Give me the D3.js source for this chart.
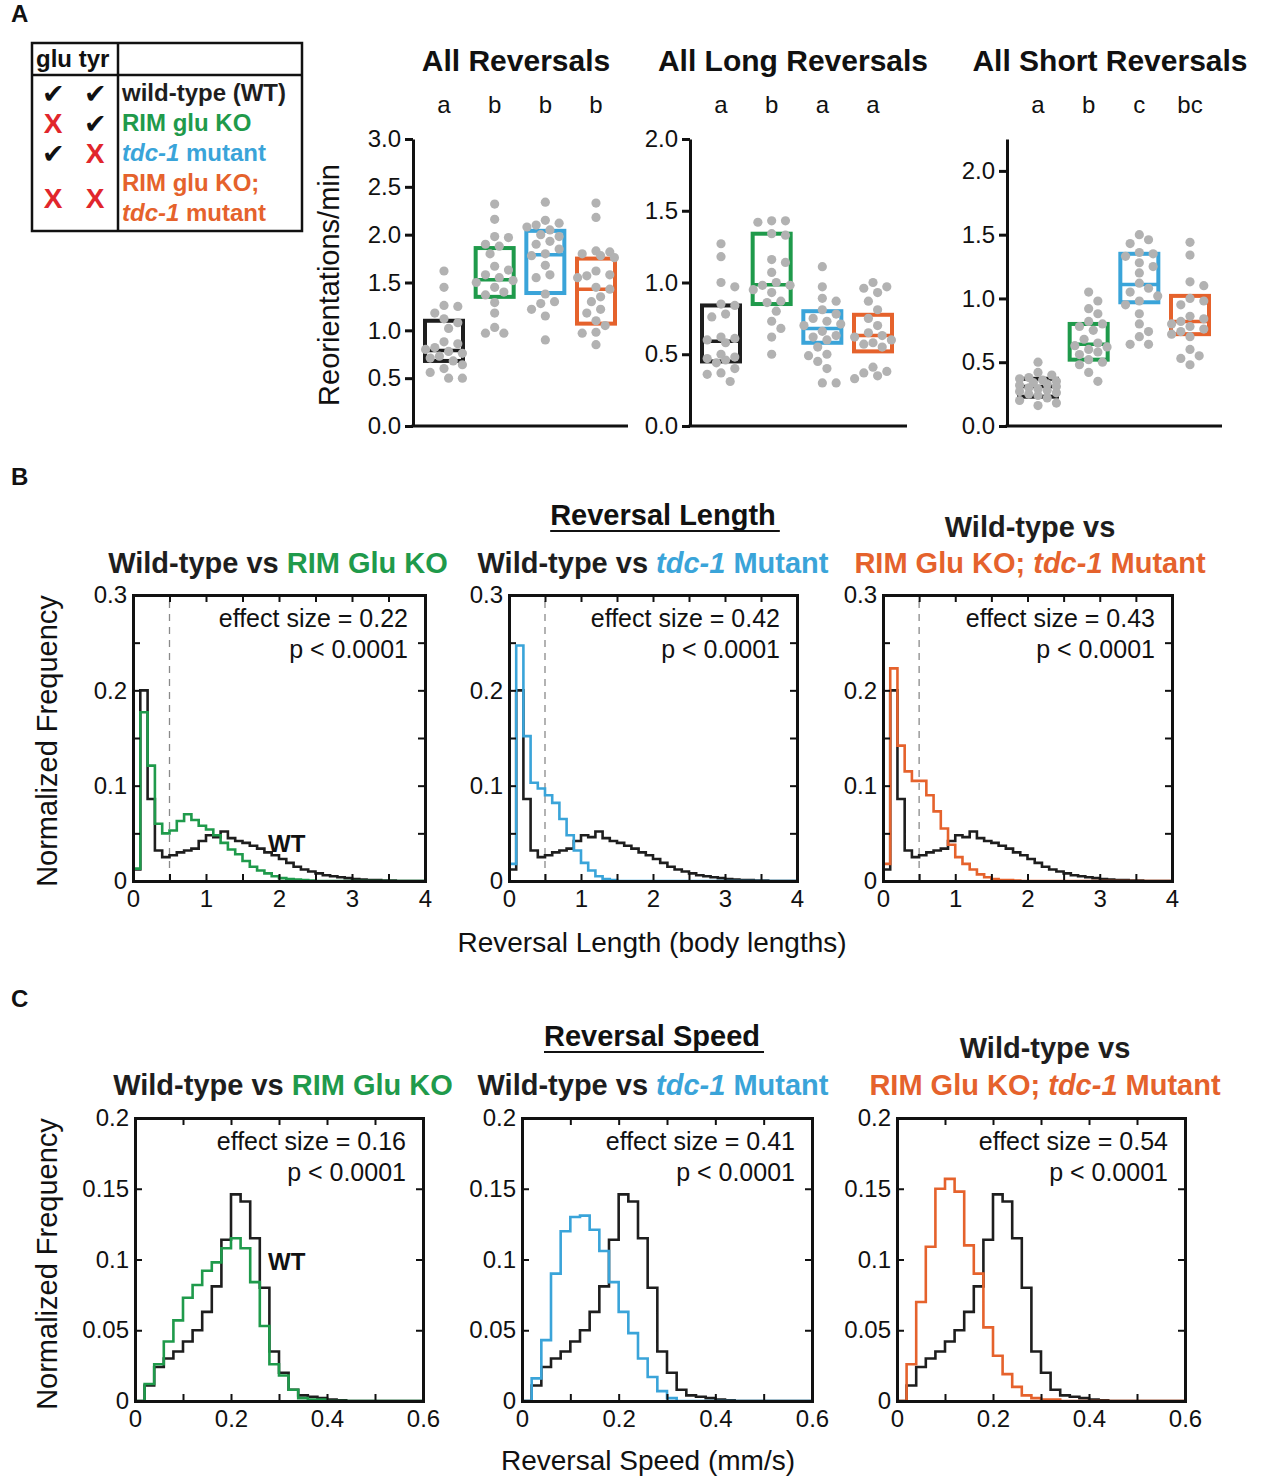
<!DOCTYPE html>
<html>
<head>
<meta charset="utf-8">
<script src="https://cdn.jsdelivr.net/npm/d3@7"></script>
<style>
  body { margin: 0; background: #fff; }
  text { font-family: "Liberation Sans", Arial, Helvetica, sans-serif; fill: #111; }
</style>
</head>
<body>
<script>
// ---- genotypes ----
var genotypes = ["WT", "RIM glu KO", "tdc-1", "RIM glu KO; tdc-1"];
var genoColors = ["#1e1e1e", "#1f9a4b", "#3aa4d9", "#e5622c"];

// ---- panel A: box plots (q1, median, q3) and individual animals ----
var boxTitles = ["All Reversals", "All Long Reversals", "All Short Reversals"];
var letterLabels = [["a", "b", "b", "b"], ["a", "b", "a", "a"], ["a", "b", "c", "bc"]];
var boxYMax = [3, 2, 2.25];
var boxTicks = [[0, 0.5, 1, 1.5, 2, 2.5, 3], [0, 0.5, 1, 1.5, 2], [0, 0.5, 1, 1.5, 2]];

var boxAll = [[0.68, 0.79, 1.10], [1.35, 1.53, 1.86], [1.39, 1.79, 2.04], [1.07, 1.43, 1.75]];
var boxLong = [[0.45, 0.59, 0.84], [0.85, 0.985, 1.34], [0.58, 0.68, 0.80], [0.52, 0.63, 0.775]];
var boxShort = [[0.23, 0.31, 0.37], [0.52, 0.64, 0.80], [0.97, 1.11, 1.35], [0.72, 0.82, 1.02]];

var dotsAll = [
  [1.62, 1.45, 1.26, 1.25, 1.18, 1.12, 1.08, 1.02, 0.88, 0.86, 0.82, 0.80, 0.78, 0.76, 0.73, 0.71, 0.68, 0.64, 0.60, 0.56, 0.50, 0.50],
  [2.32, 2.16, 1.98, 1.97, 1.90, 1.88, 1.80, 1.67, 1.63, 1.58, 1.55, 1.52, 1.50, 1.45, 1.40, 1.37, 1.29, 1.18, 1.03, 0.97, 0.97],
  [2.34, 2.15, 2.12, 2.10, 2.08, 2.05, 2.00, 1.98, 1.93, 1.90, 1.85, 1.80, 1.78, 1.68, 1.58, 1.55, 1.38, 1.30, 1.28, 1.22, 1.15, 0.90],
  [2.33, 2.18, 1.83, 1.82, 1.80, 1.78, 1.76, 1.62, 1.58, 1.57, 1.55, 1.45, 1.43, 1.35, 1.30, 1.22, 1.18, 1.10, 1.05, 0.98, 0.97, 0.85]
];
var dotsLong = [
  [1.27, 1.18, 1.00, 0.97, 0.85, 0.84, 0.78, 0.76, 0.62, 0.61, 0.60, 0.58, 0.50, 0.48, 0.47, 0.46, 0.44, 0.40, 0.37, 0.36, 0.31],
  [1.43, 1.43, 1.42, 1.34, 1.33, 1.16, 1.14, 1.07, 1.00, 0.98, 0.98, 0.95, 0.93, 0.87, 0.86, 0.80, 0.73, 0.68, 0.62, 0.50],
  [1.11, 0.97, 0.89, 0.87, 0.81, 0.78, 0.75, 0.73, 0.71, 0.70, 0.66, 0.63, 0.62, 0.60, 0.55, 0.50, 0.49, 0.45, 0.40, 0.30, 0.30],
  [1.00, 0.97, 0.96, 0.93, 0.87, 0.81, 0.75, 0.70, 0.65, 0.63, 0.62, 0.60, 0.58, 0.57, 0.55, 0.41, 0.38, 0.37, 0.35, 0.33]
];
var dotsShort = [
  [0.50, 0.42, 0.40, 0.38, 0.37, 0.36, 0.35, 0.34, 0.33, 0.32, 0.31, 0.30, 0.29, 0.28, 0.27, 0.26, 0.25, 0.24, 0.22, 0.20, 0.18, 0.16],
  [1.05, 0.98, 0.92, 0.88, 0.82, 0.80, 0.78, 0.75, 0.68, 0.65, 0.63, 0.62, 0.60, 0.58, 0.56, 0.52, 0.50, 0.48, 0.42, 0.35],
  [1.50, 1.46, 1.43, 1.36, 1.35, 1.33, 1.28, 1.25, 1.20, 1.12, 1.08, 1.05, 1.02, 0.98, 0.95, 0.88, 0.80, 0.74, 0.70, 0.64, 0.64],
  [1.44, 1.34, 1.13, 1.10, 1.00, 0.98, 0.95, 0.86, 0.84, 0.82, 0.80, 0.78, 0.76, 0.74, 0.72, 0.70, 0.60, 0.55, 0.53, 0.48]
];

// ---- panel B: reversal length histograms (bin width 0.1 body lengths) ----
var lengthBin = 0.1;
var wtLength  = [0.012, 0.200, 0.086, 0.032, 0.025, 0.027, 0.030, 0.032, 0.034, 0.042, 0.048, 0.046, 0.052, 0.045, 0.042, 0.040, 0.037, 0.034, 0.030, 0.027, 0.023, 0.019, 0.015, 0.012, 0.010, 0.008, 0.006, 0.005, 0.004, 0.003, 0.002, 0.0015, 0.001, 0.001, 0.0005, 0.0005, 0, 0, 0, 0];
var gluLength = [0.013, 0.177, 0.121, 0.060, 0.050, 0.053, 0.063, 0.070, 0.064, 0.058, 0.054, 0.048, 0.040, 0.033, 0.028, 0.021, 0.015, 0.011, 0.008, 0.005, 0.003, 0.002, 0.0015, 0.001, 0.0005, 0, 0, 0, 0, 0, 0, 0, 0, 0, 0, 0, 0, 0, 0, 0];
var tdcLength = [0.018, 0.247, 0.152, 0.103, 0.097, 0.090, 0.082, 0.065, 0.048, 0.032, 0.019, 0.011, 0.005, 0.002, 0.001, 0, 0, 0, 0, 0, 0, 0, 0, 0, 0, 0, 0, 0, 0, 0, 0, 0, 0, 0, 0, 0, 0, 0, 0, 0];
var dblLength = [0.018, 0.223, 0.142, 0.115, 0.105, 0.105, 0.090, 0.073, 0.055, 0.038, 0.025, 0.018, 0.012, 0.007, 0.004, 0.002, 0.001, 0.001, 0.0005, 0, 0, 0, 0, 0, 0, 0, 0, 0, 0, 0, 0, 0, 0, 0, 0, 0, 0, 0, 0, 0];
var lengthEffect = ["0.22", "0.42", "0.43"];

// ---- panel C: reversal speed histograms (bin width 0.02 mm/s) ----
var speedBin = 0.02;
var wtSpeed  = [0, 0.011, 0.024, 0.030, 0.035, 0.042, 0.050, 0.063, 0.081, 0.114, 0.146, 0.141, 0.115, 0.080, 0.035, 0.020, 0.008, 0.004, 0.003, 0.002, 0.001, 0.0005, 0, 0, 0, 0, 0, 0, 0, 0];
var gluSpeed = [0, 0.012, 0.026, 0.042, 0.057, 0.073, 0.082, 0.092, 0.098, 0.108, 0.115, 0.108, 0.084, 0.053, 0.026, 0.018, 0.008, 0.002, 0.001, 0.001, 0, 0, 0, 0, 0, 0, 0, 0, 0, 0];
var tdcSpeed = [0, 0.016, 0.043, 0.090, 0.120, 0.130, 0.131, 0.121, 0.106, 0.084, 0.063, 0.048, 0.030, 0.017, 0.007, 0.002, 0, 0, 0, 0, 0, 0, 0, 0, 0, 0, 0, 0, 0, 0];
var dblSpeed = [0, 0.026, 0.070, 0.109, 0.150, 0.157, 0.148, 0.110, 0.090, 0.052, 0.032, 0.019, 0.010, 0.004, 0.002, 0.001, 0.001, 0, 0, 0, 0, 0, 0, 0, 0, 0, 0, 0, 0, 0];
var speedEffect = ["0.16", "0.41", "0.54"];
var pText = "p < 0.0001";

var svg = d3.select("body").append("svg")
    .attr("width", 1262)
    .attr("height", 1481)
    .style("display", "block");

var black = genoColors[0], green = genoColors[1], blue = genoColors[2], orange = genoColors[3];
var xRed = "#e1262c";

// writes a text made of coloured / italic pieces
function richText(g, x, y, parts, size, anchor) {
  var t = g.append("text")
      .attr("x", x).attr("y", y)
      .attr("text-anchor", anchor || "middle")
      .attr("font-size", size)
      .attr("font-weight", "bold")
      .style("white-space", "pre");
  parts.forEach(function(p) {
    t.append("tspan")
      .text(p[0])
      .style("fill", p[1])
      .attr("font-style", p[2] ? "italic" : null);
  });
  return t;
}

// panel letters
[["A", 22], ["B", 485], ["C", 1007]].forEach(function(d) {
  svg.append("text").attr("x", 11).attr("y", d[1])
    .attr("font-size", 24).attr("font-weight", "bold").text(d[0]);
});

// ---------------- legend table ----------------
var leg = svg.append("g");
leg.append("rect").attr("x", 32).attr("y", 43).attr("width", 270).attr("height", 188)
  .attr("fill", "none").attr("stroke", "#111").attr("stroke-width", 2.5);
leg.append("line").attr("x1", 32).attr("x2", 302).attr("y1", 75).attr("y2", 75)
  .attr("stroke", "#111").attr("stroke-width", 2.5);
leg.append("line").attr("x1", 118).attr("x2", 118).attr("y1", 43).attr("y2", 231)
  .attr("stroke", "#111").attr("stroke-width", 2.5);
leg.append("text").attr("x", 36).attr("y", 67).attr("font-size", 24).attr("font-weight", "bold").text("glu tyr");

var legRows = [
  {y: 101, parts: [["wild-type (WT)", black]]},
  {y: 131, parts: [["RIM glu KO", green]]},
  {y: 161, parts: [["tdc-1", blue, true], [" mutant", blue]]},
  {y: 191, parts: [["RIM glu KO;", orange]]},
  {y: 221, parts: [["tdc-1", orange, true], [" mutant", orange]]}
];
legRows.forEach(function(r) { richText(leg, 122, r.y, r.parts, 24, "start"); });

// glu / tyr marks: true = present (check), false = absent (red X)
var legMarks = [[true, true, 93], [false, true, 123], [true, false, 153], [false, false, 198]];
legMarks.forEach(function(m) {
  [53, 95].forEach(function(cx, i) {
    if (m[i]) {
      leg.append("text").attr("x", cx).attr("y", m[2] + 10).attr("text-anchor", "middle")
        .attr("font-family", "DejaVu Sans").attr("font-size", 27)
        .style("fill", "#111").text("\u2714");
    } else {
      leg.append("text").attr("x", cx).attr("y", m[2] + 10).attr("text-anchor", "middle")
        .attr("font-size", 28).attr("font-weight", "bold").style("fill", xRed).text("X");
    }
  });
});

// ---------------- panel A box plots ----------------
var boxAxisX = [413, 690, 1007];
var boxAxisEnd = [628, 907, 1222];
var boxTop = 139, boxBottom = 426;
var boxData = [boxAll, boxLong, boxShort];
var dotData = [dotsAll, dotsLong, dotsShort];

// deterministic beeswarm, kept within +-maxOff of the box centre
function swarm(vals, y, r, maxOff) {
  var placed = [];
  var offs = [0];
  for (var k = 1; k * r <= maxOff; k++) { offs.push(k * r, -k * r); }
  vals.slice().sort(function(a, b) { return b - a; }).forEach(function(v) {
    var py = y(v), best = null, bestHits = Infinity;
    offs.forEach(function(off) {
      var hits = 0;
      placed.forEach(function(p) {
        var dd = Math.hypot(p.x - off, p.y - py);
        if (dd < 2 * r + 1) hits += (2 * r + 1 - dd);
      });
      if (hits < bestHits - 1e-9) { bestHits = hits; best = off; }
    });
    placed.push({x: best, y: py});
  });
  return placed;
}

boxData.forEach(function(boxes, pi) {
  var g = svg.append("g");
  var x0 = boxAxisX[pi];
  var y = d3.scaleLinear().domain([0, boxYMax[pi]]).range([boxBottom, boxTop]);
  var x = d3.scalePoint().domain(genotypes).range([x0 + 31, x0 + 183]);

  g.append("text").attr("x", x0 + 103).attr("y", 71).attr("text-anchor", "middle")
    .attr("font-size", 30).attr("font-weight", "bold").text(boxTitles[pi]);

  g.selectAll(".letter").data(letterLabels[pi]).enter().append("text")
    .attr("x", function(d, i) { return x(genotypes[i]); })
    .attr("y", 113).attr("text-anchor", "middle").attr("font-size", 24)
    .text(function(d) { return d; });

  var bw = 38;
  boxes.forEach(function(b, i) {
    var cx = x(genotypes[i]);
    g.append("rect")
      .attr("x", cx - bw / 2).attr("y", y(b[2]))
      .attr("width", bw).attr("height", y(b[0]) - y(b[2]))
      .attr("fill", "none").attr("stroke", genoColors[i]).attr("stroke-width", 4);
    g.append("line")
      .attr("x1", cx - bw / 2).attr("x2", cx + bw / 2)
      .attr("y1", y(b[1])).attr("y2", y(b[1]))
      .attr("stroke", genoColors[i]).attr("stroke-width", 3.5);
  });

  dotData[pi].forEach(function(vals, i) {
    var cx = x(genotypes[i]);
    g.selectAll(null).data(swarm(vals, y, 4.6, 21)).enter().append("circle")
      .attr("cx", function(d) { return cx + d.x; })
      .attr("cy", function(d) { return d.y; })
      .attr("r", 4.6)
      .attr("fill", "#b2b2b2");
  });

  var ax = g.append("g").attr("transform", "translate(" + x0 + ",0)")
    .call(d3.axisLeft(y).tickValues(boxTicks[pi]).tickSize(8).tickSizeOuter(0)
      .tickPadding(4).tickFormat(d3.format(".1f")));
  ax.selectAll("text").attr("font-size", 24).style("font-family", null).style("fill", "#111");
  ax.selectAll("line").attr("stroke", "#111").attr("stroke-width", 3);
  ax.select(".domain").attr("stroke", "#111").attr("stroke-width", 3);

  g.append("line").attr("x1", x0 - 1.5).attr("x2", boxAxisEnd[pi])
    .attr("y1", boxBottom).attr("y2", boxBottom)
    .attr("stroke", "#111").attr("stroke-width", 3);
});

svg.append("text")
  .attr("transform", "translate(339,285) rotate(-90)")
  .attr("text-anchor", "middle").attr("font-size", 29)
  .text("Reorientations/min");

// ---------------- histogram panels ----------------
function tickLabel(d) { return String(+d.toFixed(3)); }

function histPanel(cfg) {
  var g = svg.append("g");
  var x = d3.scaleLinear().domain([0, cfg.xmax]).range([cfg.x0, cfg.x1]);
  var y = d3.scaleLinear().domain([0, cfg.ymax]).range([cfg.yb, cfg.yt]);

  if (cfg.dash !== undefined) {
    g.append("line").attr("x1", x(cfg.dash)).attr("x2", x(cfg.dash))
      .attr("y1", cfg.yb).attr("y2", cfg.yt)
      .attr("stroke", "#8a8a8a").attr("stroke-width", 1.3).attr("stroke-dasharray", "7,6");
  }

  var line = d3.line().x(function(d) { return x(d[0]); }).y(function(d) { return y(d[1]); })
    .curve(d3.curveStepAfter);
  cfg.series.forEach(function(s) {
    var pts = s.vals.map(function(v, i) { return [i * cfg.bin, v]; });
    pts.push([s.vals.length * cfg.bin, s.vals[s.vals.length - 1]]);
    g.append("path").attr("d", line(pts)).attr("fill", "none")
      .attr("stroke", s.color).attr("stroke-width", 2.6).attr("stroke-linejoin", "miter");
  });

  var xt = d3.range(0, cfg.xmax + 1e-9, cfg.xStep).map(function(d) { return +d.toFixed(4); });
  var yt = d3.range(0, cfg.ymax + 1e-9, cfg.yStep).map(function(d) { return +d.toFixed(4); });
  function isLab(d, step) { return Math.abs(d / step - Math.round(d / step)) < 1e-6; }

  var axes = [
    g.append("g").attr("transform", "translate(0," + cfg.yb + ")")
      .call(d3.axisBottom(x).tickValues(xt).tickSizeInner(-7).tickSizeOuter(0).tickPadding(9)
        .tickFormat(function(d) { return isLab(d, cfg.xLab) ? tickLabel(d) : ""; })),
    g.append("g").attr("transform", "translate(0," + cfg.yt + ")")
      .call(d3.axisTop(x).tickValues(xt).tickSizeInner(-7).tickSizeOuter(0).tickFormat("")),
    g.append("g").attr("transform", "translate(" + cfg.x0 + ",0)")
      .call(d3.axisLeft(y).tickValues(yt).tickSizeInner(-7).tickSizeOuter(0).tickPadding(6)
        .tickFormat(function(d) { return isLab(d, cfg.yLab) ? tickLabel(d) : ""; })),
    g.append("g").attr("transform", "translate(" + cfg.x1 + ",0)")
      .call(d3.axisRight(y).tickValues(yt).tickSizeInner(-7).tickSizeOuter(0).tickFormat(""))
  ];
  axes.forEach(function(a) {
    a.selectAll("text").attr("font-size", 24).style("font-family", null).style("fill", "#111");
    a.selectAll("line").attr("stroke", "#111").attr("stroke-width", 2);
    a.select(".domain").attr("stroke", "#111").attr("stroke-width", 3).attr("stroke-linecap", "square");
  });

  g.append("text").attr("x", cfg.x1 - 17).attr("y", cfg.yt + 32).attr("text-anchor", "end")
    .attr("font-size", 25).text("effect size = " + cfg.effect);
  g.append("text").attr("x", cfg.x1 - 17).attr("y", cfg.yt + 63).attr("text-anchor", "end")
    .attr("font-size", 25).text(pText);

  if (cfg.wt) {
    g.append("text").attr("x", cfg.wt[0]).attr("y", cfg.wt[1])
      .attr("font-size", 24).attr("font-weight", "bold").text("WT");
  }

  cfg.title.forEach(function(lineParts, i) {
    richText(g, cfg.titleX, cfg.titleY[i], lineParts, 29, "middle");
  });
}

var t1 = [[["Wild-type vs ", black], ["RIM Glu KO", green]]];
var t2 = [[["Wild-type vs ", black], ["tdc-1", blue, true], [" Mutant", blue]]];
var t3 = [[["Wild-type vs", black]], [["RIM Glu KO; ", orange], ["tdc-1", orange, true], [" Mutant", orange]]];

var lenFrames = [[133, 425], [509, 797], [883, 1172]];
var lenTitleX = [278, 653, 1030];
var lenSeries = [gluLength, tdcLength, dblLength];
var spdFrames = [[135, 423], [522, 812], [897, 1185]];
var spdTitleX = [283, 653, 1045];
var spdSeries = [gluSpeed, tdcSpeed, dblSpeed];
var titles = [t1, t2, t3];

lenFrames.forEach(function(f, i) {
  histPanel({
    x0: f[0], x1: f[1], yt: 595, yb: 881,
    xmax: 4, ymax: 0.3, xStep: 0.5, xLab: 1, yStep: 0.05, yLab: 0.1,
    bin: lengthBin, dash: 0.5,
    series: [{vals: wtLength, color: black}, {vals: lenSeries[i], color: genoColors[i + 1]}],
    effect: lengthEffect[i],
    wt: i === 0 ? [268, 852] : null,
    title: titles[i], titleX: lenTitleX[i],
    titleY: titles[i].length === 1 ? [573] : [537, 573]
  });
});

spdFrames.forEach(function(f, i) {
  histPanel({
    x0: f[0], x1: f[1], yt: 1118, yb: 1401,
    xmax: 0.6, ymax: 0.2, xStep: 0.1, xLab: 0.2, yStep: 0.05, yLab: 0.05,
    bin: speedBin,
    series: [{vals: wtSpeed, color: black}, {vals: spdSeries[i], color: genoColors[i + 1]}],
    effect: speedEffect[i],
    wt: i === 0 ? [268, 1270] : null,
    title: titles[i], titleX: spdTitleX[i],
    titleY: titles[i].length === 1 ? [1095] : [1058, 1095]
  });
});

// section headings (underlined)
[["Reversal Length", 663, 525], ["Reversal Speed", 652, 1046]].forEach(function(h) {
  var t = svg.append("text").attr("x", h[1]).attr("y", h[2]).attr("text-anchor", "middle")
    .attr("font-size", 29).attr("font-weight", "bold").text(h[0]);
  var w = t.node().getComputedTextLength();
  svg.append("line").attr("x1", h[1] - w / 2).attr("x2", h[1] + w / 2 + 4)
    .attr("y1", h[2] + 6).attr("y2", h[2] + 6).attr("stroke", "#111").attr("stroke-width", 2);
});

// axis titles
svg.append("text").attr("x", 652).attr("y", 952).attr("text-anchor", "middle")
  .attr("font-size", 28).text("Reversal Length (body lengths)");
svg.append("text").attr("x", 648).attr("y", 1470).attr("text-anchor", "middle")
  .attr("font-size", 28).text("Reversal Speed (mm/s)");
[741, 1264].forEach(function(cy) {
  svg.append("text").attr("transform", "translate(57," + cy + ") rotate(-90)")
    .attr("text-anchor", "middle").attr("font-size", 29).text("Normalized Frequency");
});
</script>
</body>
</html>
